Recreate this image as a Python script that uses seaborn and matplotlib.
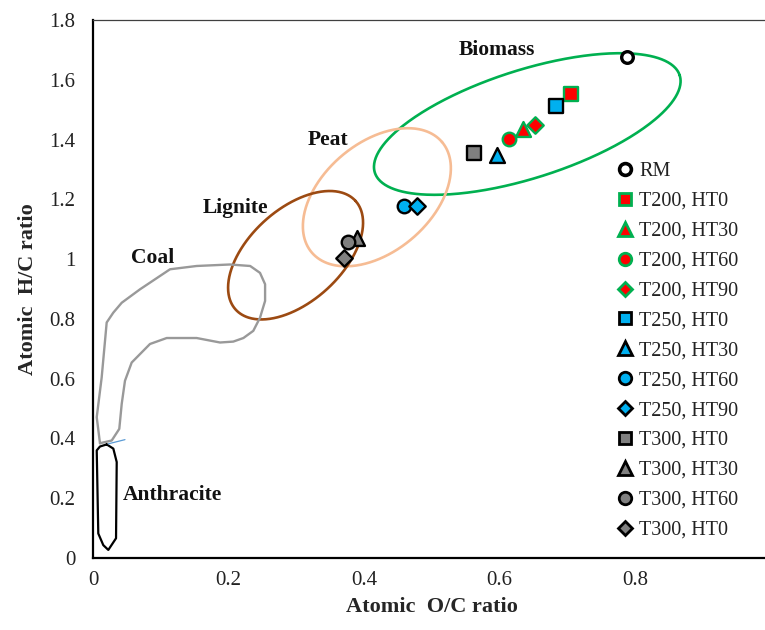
import numpy as np
import pandas as pd
import matplotlib
matplotlib.use("Agg")
import matplotlib.pyplot as plt
from matplotlib.ticker import FuncFormatter
import seaborn as sns

# ---------------- data ----------------
series = ["RM", "T200, HT0", "T200, HT30", "T200, HT60", "T200, HT90",
          "T250, HT0", "T250, HT30", "T250, HT60", "T250, HT90",
          "T300, HT0", "T300, HT30", "T300, HT60", "T300, HT0"]
oc_ratio = [0.788, 0.705, 0.635, 0.614, 0.652,
            0.683, 0.597, 0.459, 0.478,
            0.563, 0.389, 0.377, 0.371]
hc_ratio = [1.677, 1.551, 1.436, 1.402, 1.449,
            1.513, 1.347, 1.177, 1.177,
            1.354, 1.071, 1.058, 1.004]
markers = ["o", "s", "^", "o", "D", "s", "^", "o", "D", "s", "^", "o", "D"]
face_colors = ["white"] + ["#FF0000"] * 4 + ["#00B0F0"] * 4 + ["#808080"] * 4
edge_colors = ["black"] + ["#00B050"] * 4 + ["black"] * 4 + ["black"] * 4

# region outlines (O/C, H/C)
coal_x = [0.0103, 0.0055, 0.0128, 0.0202, 0.030, 0.0424, 0.0694, 0.1137, 0.153,
          0.202, 0.232, 0.2465, 0.254, 0.254, 0.2465, 0.2366, 0.222, 0.207,
          0.1875, 0.153, 0.1088, 0.0841, 0.0571, 0.0472, 0.0424, 0.0388,
          0.0276, 0.0103]
coal_y = [0.384, 0.471, 0.604, 0.788, 0.821, 0.854, 0.899, 0.966, 0.977,
          0.982, 0.977, 0.954, 0.916, 0.86, 0.804, 0.76, 0.736, 0.724,
          0.721, 0.736, 0.736, 0.716, 0.654, 0.593, 0.516, 0.432,
          0.393, 0.384]
anth_x = [0.0202, 0.030, 0.035, 0.034, 0.0226, 0.0152, 0.0078, 0.0055, 0.0103, 0.0202]
anth_y = [0.380, 0.366, 0.321, 0.066, 0.027, 0.043, 0.082, 0.360, 0.373, 0.380]
link_x = [0.0226, 0.0472]
link_y = [0.382, 0.396]

# ellipses: centre O/C, centre H/C, semi-axes (px), angle (deg), colour
ell_names = ["Biomass", "Peat", "Lignite"]
ell_cx = [0.641, 0.419, 0.299]
ell_cy = [1.452, 1.207, 1.013]
ell_a = [160.0, 85.4, 80.9]
ell_b = [54.0, 54.3, 46.2]
ell_ang = [17.7, 40.3, 42.2]
ell_col = ["#00B050", "#F6BC94", "#9C4A12"]

region_labels = ["Biomass", "Peat", "Lignite", "Coal", "Anthracite"]
region_lx = [0.596, 0.347, 0.2096, 0.0878, 0.117]
region_ly = [1.70, 1.40, 1.17, 1.005, 0.21]

xticks = [0, 0.2, 0.4, 0.6, 0.8, 1.0]
xtick_labels = ["0", "0.2", "0.4", "0.6", "0.8", ""]
yticks = [0, 0.2, 0.4, 0.6, 0.8, 1.0, 1.2, 1.4, 1.6, 1.8]

# ---------------- style ----------------
sns.set_theme(style="white")
plt.rcParams["font.family"] = ["Liberation Serif", "DejaVu Serif"]

W, H = 765, 630
fig = plt.figure(figsize=(W / 100, H / 100), dpi=100)
left_px, right_px, top_px, bot_px = 93, 770.5, 20, 558
ax = fig.add_axes([left_px / W, 1 - bot_px / H,
                   (right_px - left_px) / W, (bot_px - top_px) / H])
ax.set_xlim(0, 1.0)
ax.set_ylim(0, 1.8)

PX_X = (right_px - left_px) / 1.0
PX_Y = (bot_px - top_px) / 1.8

# ellipses
t = np.linspace(0, 2 * np.pi, 400)
for cx, cy, a, b, ang, col in zip(ell_cx, ell_cy, ell_a, ell_b, ell_ang, ell_col):
    th = np.deg2rad(ang)
    u, v = a * np.cos(t), b * np.sin(t)
    dx = u * np.cos(th) - v * np.sin(th)
    dy = u * np.sin(th) + v * np.cos(th)
    ax.plot(cx + dx / PX_X, cy + dy / PX_Y, color=col, lw=1.9, zorder=2)

ax.plot(coal_x, coal_y, color="#999999", lw=1.7, zorder=2)
ax.plot(anth_x, anth_y, color="black", lw=1.6, zorder=2)
ax.plot(link_x, link_y, color="#5B9BD5", lw=0.9, zorder=2)

# points
for name, x, y, m, fc, ec in zip(series, oc_ratio, hc_ratio, markers, face_colors, edge_colors):
    size = 95 if m in ("s", "o") else (115 if m == "^" else 70)
    lw = 2.4 if name == "RM" else 1.7
    if name == "RM":
        size = 70
    sns.scatterplot(x=[x], y=[y], marker=m, s=size, color=fc, edgecolor=ec,
                    linewidth=lw, label=name, ax=ax, zorder=4, legend=False)

for lab, lx, ly in zip(region_labels, region_lx, region_ly):
    ax.text(lx, ly, lab, ha="center", va="center", fontsize=15.5,
            fontweight="bold", color="#111111", zorder=5)

# axes styling
for s in ["left", "bottom"]:
    ax.spines[s].set_color("black")
    ax.spines[s].set_linewidth(1.6)
ax.spines["top"].set_color("#404040")
ax.spines["top"].set_linewidth(0.9)
ax.spines["right"].set_visible(False)
ax.set_xticks(xticks)
ax.set_xticklabels(xtick_labels)
ax.set_yticks(yticks)
fmt = FuncFormatter(lambda v, p: "%g" % round(v, 2))
ax.yaxis.set_major_formatter(fmt)
ax.tick_params(axis="both", direction="out", length=4.5, width=1.4,
               color="black", labelcolor="#222222", labelsize=15)
ax.tick_params(axis="x", pad=5)
ax.tick_params(axis="y", pad=8)
ax.tick_params(top=False, right=False)

ax.set_xlabel("Atomic  O/C ratio", fontsize=16, fontweight="bold", labelpad=5)
ax.set_ylabel("Atomic  H/C ratio", fontsize=16, fontweight="bold", labelpad=8)

# legend
handles = []
for name, m, fc, ec in zip(series, markers, face_colors, edge_colors):
    ms = 9 if m in ("s", "o") else (10 if m == "^" else 7.5)
    if name == "RM":
        ms = 8.5
    h = plt.Line2D([], [], linestyle="", marker=m, markersize=ms,
                   markerfacecolor=fc, markeredgecolor=ec,
                   markeredgewidth=2.6 if name == "RM" else 2.0, label=name)
    handles.append(h)
leg = ax.legend(handles=handles, loc="upper left",
                bbox_to_anchor=(615 / W, 1 - 162 / H), bbox_transform=fig.transFigure,
                frameon=False, fontsize=14.5, handlelength=1.0, handletextpad=0.2,
                labelspacing=0.535, borderpad=0, borderaxespad=0)
for txt in leg.get_texts():
    txt.set_color("#222222")

fig.savefig("out.png", dpi=100)
